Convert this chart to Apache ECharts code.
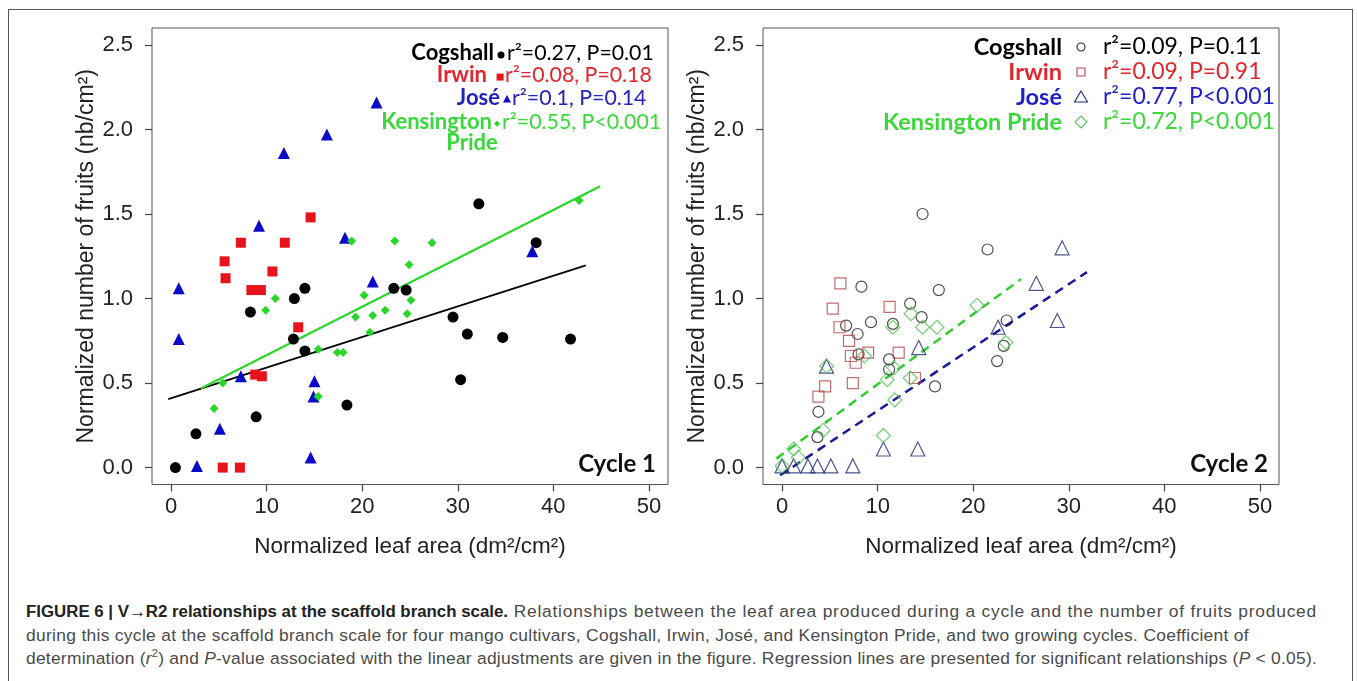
<!DOCTYPE html>
<html>
<head>
<meta charset="utf-8">
<script src="https://cdn.jsdelivr.net/npm/echarts@6.0.0/dist/echarts.min.js"></script>
<style>
html,body{margin:0;padding:0;background:#fff;width:1358px;height:681px;overflow:hidden;}
#frame{position:absolute;left:8px;top:9px;width:1345px;height:720px;border:1.5px solid #555;box-sizing:border-box;}
#chart{position:absolute;left:0;top:0;width:1358px;height:600px;}
#caption{position:absolute;left:26px;top:600px;font-family:"Liberation Sans",Arial,sans-serif;font-size:17.4px;color:#4a4a4a;line-height:23.5px;white-space:pre;}
#caption .cl{display:block;width:max-content;}
#bold{color:#222;display:inline-block;transform-origin:0 0;}
</style>
</head>
<body>
<div id="frame"></div>
<div id="chart"></div>
<div id="caption"><div class="cl" data-w="1291"><b id="bold" data-w="482">FIGURE 6 | V→R2 relationships at the scaffold branch scale.</b><span class="rest"> Relationships between the leaf area produced during a cycle and the number of fruits produced</span></div><div class="cl" data-w="1223"><span class="rest">during this cycle at the scaffold branch scale for four mango cultivars, Cogshall, Irwin, José, and Kensington Pride, and two growing cycles. Coefficient of</span></div><div class="cl" data-w="1291"><span class="rest">determination (<i>r</i><sup style="font-size:11px;line-height:0">2</sup>) and <i>P</i>-value associated with the linear adjustments are given in the figure. Regression lines are presented for significant relationships (<i>P</i> &lt; 0.05).</span></div></div>
<script>
// ---------- data ----------
const xTicks = [0, 10, 20, 30, 40, 50];
const yTicks = [0, 0.5, 1.0, 1.5, 2.0, 2.5];
const xTitle = "Normalized leaf area (dm²/cm²)";
const yTitle = "Normalized number of fruits (nb/cm²)";
const cultivars = ["Cogshall", "Irwin", "José", "Kensington Pride"];

// Cycle 1 (leaf area, fruits)
const cog1 = [[0.45,0.0],[2.6,0.2],[8.9,0.3],[8.3,0.92],[12.9,1.0],[14.0,1.06],[12.8,0.76],[14.0,0.69],[18.4,0.37],[23.3,1.06],[24.6,1.05],[32.2,1.56],[38.2,1.33],[29.5,0.89],[31.0,0.79],[34.7,0.77],[41.8,0.76],[30.3,0.52]];
const irw1 = [[14.6,1.48],[7.3,1.33],[11.9,1.33],[5.6,1.22],[5.7,1.12],[10.6,1.16],[8.4,1.05],[9.4,1.05],[13.3,0.83],[8.8,0.55],[9.5,0.54],[5.4,0.0],[7.2,0.0]];
const jose1 = [[21.5,2.16],[16.3,1.97],[11.8,1.86],[9.2,1.43],[18.2,1.36],[0.8,1.06],[21.1,1.10],[0.8,0.76],[7.3,0.54],[15.0,0.51],[14.9,0.42],[5.1,0.23],[14.6,0.06],[2.7,0.01],[37.8,1.28]];
const kp1 = [[18.9,1.34],[23.4,1.34],[10.9,1.0],[9.9,0.93],[20.2,1.02],[19.3,0.89],[21.1,0.90],[22.4,0.93],[20.8,0.80],[15.4,0.70],[17.4,0.68],[18.0,0.68],[5.4,0.50],[15.4,0.42],[4.5,0.35],[27.3,1.33],[24.9,1.20],[25.1,0.99],[24.7,0.91],[42.7,1.58]];
const cogLine1 = [[-0.3,0.405],[43.4,1.196]];
const kpLine1 = [[3.1,0.468],[44.9,1.664]];
const stats1 = ["r²=0.27, P=0.01", "r²=0.08, P=0.18", "r²=0.1, P=0.14", "r²=0.55, P<0.001"];

// Cycle 2
const cog2 = [[14.7,1.50],[21.5,1.29],[8.3,1.07],[16.4,1.05],[13.4,0.97],[14.6,0.89],[6.7,0.84],[9.3,0.86],[11.6,0.85],[7.9,0.79],[8.0,0.67],[11.2,0.64],[11.2,0.58],[16.0,0.48],[3.8,0.33],[3.7,0.18],[23.5,0.87],[23.2,0.72],[22.5,0.63]];
const irw2 = [[6.1,1.09],[5.3,0.94],[11.25,0.95],[6.0,0.83],[7.0,0.75],[7.2,0.66],[7.7,0.62],[9.0,0.68],[12.2,0.68],[7.4,0.50],[4.5,0.48],[3.8,0.42],[13.9,0.53]];
const jose2 = [[29.3,1.30],[26.6,1.09],[22.6,0.83],[28.8,0.87],[14.3,0.71],[4.65,0.60],[10.6,0.11],[14.2,0.11],[0.0,0.01],[1.2,0.01],[2.7,0.01],[3.7,0.01],[5.1,0.01],[7.4,0.01]];
const kp2 = [[20.4,0.96],[13.5,0.91],[11.6,0.83],[14.7,0.83],[16.2,0.83],[8.6,0.66],[4.65,0.60],[11.7,0.59],[11.0,0.52],[13.4,0.53],[11.8,0.40],[10.6,0.19],[4.3,0.22],[23.4,0.74],[1.2,0.11],[1.7,0.06],[0.0,0.01]];
const kpLine2 = [[-0.6,0.053],[25.0,1.115]];
const joseLine2 = [[-0.2,-0.045],[31.9,1.156]];
const stats2 = ["r²=0.09, P=0.11", "r²=0.09, P=0.91", "r²=0.77, P<0.001", "r²=0.72, P<0.001"];

// ---------- styling ----------
const AX = '"Liberation Sans", Arial, sans-serif';
const CAL = 'Lato, "Open Sans", sans-serif';
const col1 = ['#000000', '#e8141c', '#0a0ac8', '#2bd62b'];
const txt1 = ['#000000', '#e0262e', '#2323b8', '#3ad83a'];
const col2 = ['#222222', '#b0484a', '#1f2a70', '#55c055'];
const txt2 = ['#000000', '#e0262e', '#1f1fc8', '#3ad83a'];

function xAxisDef(gi) {
  return {
    gridIndex: gi, type: 'value', min: -2, max: 52, position: 'bottom',
    axisLine: {show: false, onZero: false},
    axisTick: {show: true, length: 7, inside: false, customValues: xTicks, lineStyle: {color: '#444', width: 1.2}},
    axisLabel: {customValues: xTicks, margin: 11, fontFamily: AX, fontSize: 22, color: '#222'},
    splitLine: {show: false},
    name: xTitle, nameLocation: 'middle', nameGap: 51,
    nameTextStyle: {fontFamily: AX, fontSize: 22.5, color: '#222'}
  };
}
function yAxisDef(gi) {
  return {
    gridIndex: gi, type: 'value', min: -0.1, max: 2.6, position: 'left',
    axisLine: {show: false, onZero: false},
    axisTick: {show: true, length: 7, inside: false, customValues: yTicks, lineStyle: {color: '#444', width: 1.2}},
    axisLabel: {customValues: yTicks, margin: 19, fontFamily: AX, fontSize: 22, color: '#222', formatter: v => v.toFixed(1)},
    splitLine: {show: false},
    name: yTitle, nameLocation: 'middle', nameGap: 53, nameRotate: 90,
    nameTextStyle: {fontFamily: AX, fontSize: 23, color: '#222'}
  };
}
function scat(gi, data, symbol, size, color, hollow) {
  return {
    type: 'scatter', xAxisIndex: gi, yAxisIndex: gi, data: data, symbol: symbol, symbolSize: size,
    clip: false, silent: true,
    itemStyle: hollow ? {color: 'rgba(255,255,255,0)', borderColor: color, borderWidth: 1.2} : {color: color, opacity: 1}
  };
}
function line(gi, data, color, width, dashed) {
  return {
    type: 'line', xAxisIndex: gi, yAxisIndex: gi, data: data, showSymbol: false, symbol: 'none',
    silent: true, z: 1, clip: false,
    lineStyle: {color: color, width: width, type: dashed ? [9, 6] : 'solid'}
  };
}

// legend graphics
const g = [];
function txt(x, y, text, fill, size, weight, align) {
  g.push({type: 'text', x: x, y: y, style: {text: text, fill: fill, font: weight + ' ' + size + 'px ' + CAL, align: align, verticalAlign: 'middle'}});
}
// left legend
const L1 = {rows: [53, 75, 98, 122], nameR: [494, 487, 500, 492], mk: [501, 500, 507, 497], st: [507, 505, 512, 502]};
const names1 = ["Cogshall", "Irwin", "José", "Kensington"];
for (let i = 0; i < 4; i++) {
  txt(L1.nameR[i], L1.rows[i], names1[i], txt1[i], 22, 'bold', 'right');
  txt(L1.st[i], L1.rows[i], stats1[i], txt1[i], 21.3, 'normal', 'left');
}
txt(472, 143, "Pride", txt1[3], 22, 'bold', 'center');
g.push({type: 'circle', shape: {cx: L1.mk[0], cy: L1.rows[0] + 2, r: 3.5}, style: {fill: col1[0]}});
g.push({type: 'rect', shape: {x: L1.mk[1] - 3.4, y: L1.rows[1] - 1.4, width: 7, height: 7}, style: {fill: col1[1]}});
g.push({type: 'polygon', shape: {points: [[L1.mk[2], L1.rows[2] - 3], [L1.mk[2] - 4, L1.rows[2] + 4.5], [L1.mk[2] + 4, L1.rows[2] + 4.5]]}, style: {fill: col1[2]}});
g.push({type: 'polygon', shape: {points: [[L1.mk[3], L1.rows[3] - 1.3], [L1.mk[3] + 3, L1.rows[3] + 1.7], [L1.mk[3], L1.rows[3] + 4.7], [L1.mk[3] - 3, L1.rows[3] + 1.7]]}, style: {fill: col1[3]}});
// right legend
const L2 = {rows: [47, 72, 97, 122], nameR: 1062, mk: 1081, st: 1103};
for (let i = 0; i < 4; i++) {
  txt(L2.nameR, L2.rows[i], cultivars[i], txt2[i], 23.5, 'bold', 'right');
  txt(L2.st, L2.rows[i], stats2[i], txt2[i], 23, 'normal', 'left');
}
const ms = {fill: 'none', lineWidth: 1.1};
g.push({type: 'circle', shape: {cx: L2.mk, cy: L2.rows[0], r: 4}, style: Object.assign({stroke: col2[0]}, ms)});
g.push({type: 'rect', shape: {x: L2.mk - 4, y: L2.rows[1] - 4, width: 8, height: 8}, style: Object.assign({stroke: col2[1]}, ms)});
g.push({type: 'polygon', shape: {points: [[L2.mk, L2.rows[2] - 6], [L2.mk - 6.5, L2.rows[2] + 5], [L2.mk + 6.5, L2.rows[2] + 5]]}, style: Object.assign({stroke: col2[2]}, ms)});
g.push({type: 'polygon', shape: {points: [[L2.mk, L2.rows[3] - 6], [L2.mk + 6, L2.rows[3]], [L2.mk, L2.rows[3] + 6], [L2.mk - 6, L2.rows[3]]]}, style: Object.assign({stroke: col2[3]}, ms)});
// cycle labels
txt(656, 464, "Cycle 1", '#111', 24, 'bold', 'right');
txt(1268, 464, "Cycle 2", '#111', 24, 'bold', 'right');

const option = {
  animation: false,
  backgroundColor: 'transparent',
  grid: [
    {left: 152, top: 28, width: 516, height: 456.5, show: true, borderColor: '#555', borderWidth: 1, backgroundColor: 'transparent'},
    {left: 763, top: 28, width: 516, height: 456.5, show: true, borderColor: '#555', borderWidth: 1, backgroundColor: 'transparent'}
  ],
  xAxis: [xAxisDef(0), xAxisDef(1)],
  yAxis: [yAxisDef(0), yAxisDef(1)],
  series: [
    line(0, cogLine1, '#000', 1.6, false),
    line(0, kpLine1, '#2bd62b', 2.2, false),
    scat(0, cog1, 'circle', 11, col1[0], false),
    scat(0, irw1, 'rect', 10, col1[1], false),
    scat(0, jose1, 'triangle', 12, col1[2], false),
    scat(0, kp1, 'diamond', 9, col1[3], false),
    line(1, kpLine2, '#33cc33', 2.5, true),
    line(1, joseLine2, '#1a1a99', 2.5, true),
    scat(1, cog2, 'circle', 11, col2[0], true),
    scat(1, irw2, 'rect', 11, col2[1], true),
    scat(1, jose2, 'triangle', 14, col2[2], true),
    scat(1, kp2, 'diamond', 14, col2[3], true)
  ],
  graphic: g
};
const chart = echarts.init(document.getElementById('chart'), null, {renderer: 'canvas'});
chart.setOption(option);

// fit caption: condense the bold heading to its reference width, then fit each line's plain text with letter spacing
const b = document.getElementById('bold');
const bw = b.getBoundingClientRect().width;
const bt = +b.dataset.w;
b.style.transform = 'scaleX(' + (bt / bw).toFixed(4) + ')';
b.style.marginRight = (bt - bw).toFixed(1) + 'px';
document.querySelectorAll('#caption .cl').forEach(el => {
  const target = +el.dataset.w;
  const r = el.querySelector('.rest');
  const w = el.getBoundingClientRect().width;
  const n = r.textContent.length;
  r.style.letterSpacing = ((target - w) / n).toFixed(3) + 'px';
});
</script>
</body>
</html>
